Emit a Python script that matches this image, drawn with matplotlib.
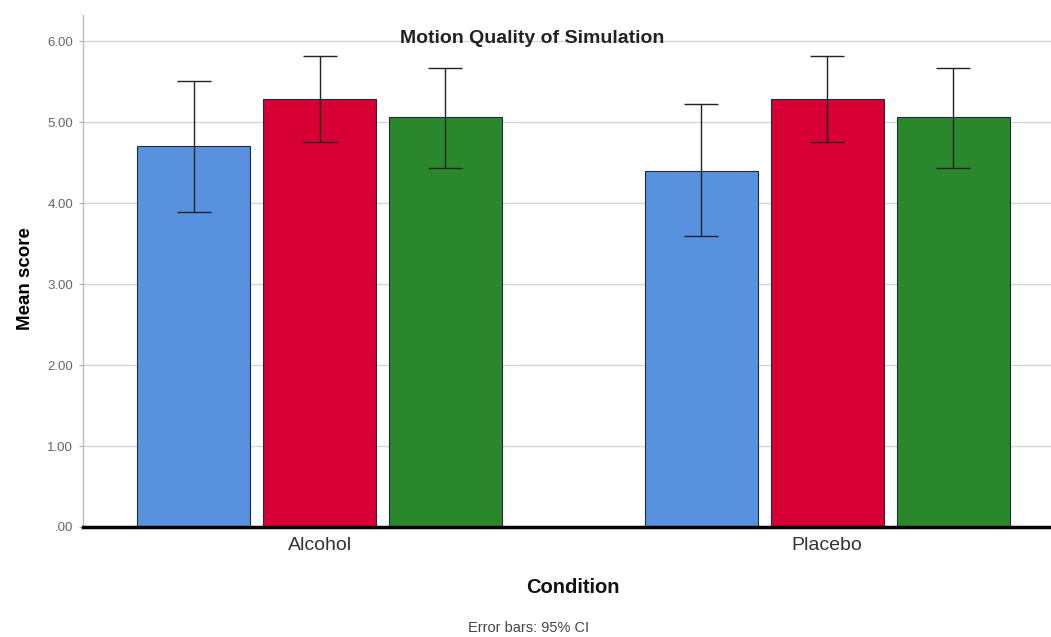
import matplotlib.pyplot as plt
import numpy as np

# data
conditions = ['Alcohol', 'Placebo']
means_1 = [4.71, 4.40]
lower_1 = [3.89, 3.59]
upper_1 = [5.51, 5.23]
means_2 = [5.28, 5.28]
lower_2 = [4.76, 4.76]
upper_2 = [5.82, 5.82]
means_3 = [5.06, 5.06]
lower_3 = [4.44, 4.44]
upper_3 = [5.67, 5.67]
yticks = [0, 1, 2, 3, 4, 5, 6]
ytick_labels = ['.00', '1.00', '2.00', '3.00', '4.00', '5.00', '6.00']

plt.rcParams['font.family'] = ['Liberation Sans', 'DejaVu Sans']

fig = plt.figure(figsize=(10.51, 6.37), dpi=100)
ax = fig.add_axes([0.079, 0.1727, 0.921, 0.8033])

index = np.arange(len(conditions))
width = 0.2227   # bar width
step = 0.248     # distance between bars in a group

series = [(means_1, lower_1, upper_1, '#5892DE'),
          (means_2, lower_2, upper_2, '#D70034'),
          (means_3, lower_3, upper_3, '#2A872B')]

for k, (m, lo, hi, col) in enumerate(series):
    x = index + (k - 1) * step
    m = np.array(m)
    err = [m - np.array(lo), np.array(hi) - m]
    ax.bar(x, m, width, color=col, edgecolor='#1F2A3A', linewidth=0.8, zorder=2)
    ax.errorbar(x, m, yerr=err, fmt='none', ecolor='#222222', elinewidth=1.0,
                capsize=12, capthick=1.0, zorder=3)

ax.set_ylim(0, 6.32)
ax.set_xlim(-0.466, 1.441)
ax.set_yticks(yticks)
ax.set_yticklabels(ytick_labels, fontsize=9.5, color='#666666')
ax.set_xticks(index)
ax.set_xticklabels(conditions, fontsize=14, color='#333333')
ax.tick_params(axis='x', length=0, pad=7)
ax.tick_params(axis='y', length=3, color='#AAAAAA', pad=4)
ax.yaxis.grid(True, color='#D4D4D4', linewidth=1.0, zorder=0)
ax.set_axisbelow(True)

for s in ['top', 'right']:
    ax.spines[s].set_visible(False)
ax.spines['left'].set_color('#BBBBBB')
ax.spines['left'].set_linewidth(1.0)
ax.spines['bottom'].set_color('black')
ax.spines['bottom'].set_linewidth(2.5)
ax.spines['bottom'].set_zorder(4)

ax.set_ylabel('Mean score', fontsize=13.5, fontweight='bold')
ax.yaxis.set_label_coords(-0.051, 0.485)

fig.text(0.545, 0.077, 'Condition', fontsize=14.5, fontweight='bold',
         ha='center', va='center', color='#111111')
fig.text(0.506, 0.94, 'Motion Quality of Simulation', fontsize=14,
         fontweight='bold', ha='center', va='center', color='#222222')
fig.text(0.503, 0.014, 'Error bars: 95% CI', fontsize=10.5, ha='center',
         va='center', color='#444444')

plt.savefig('out.png', dpi=100)
